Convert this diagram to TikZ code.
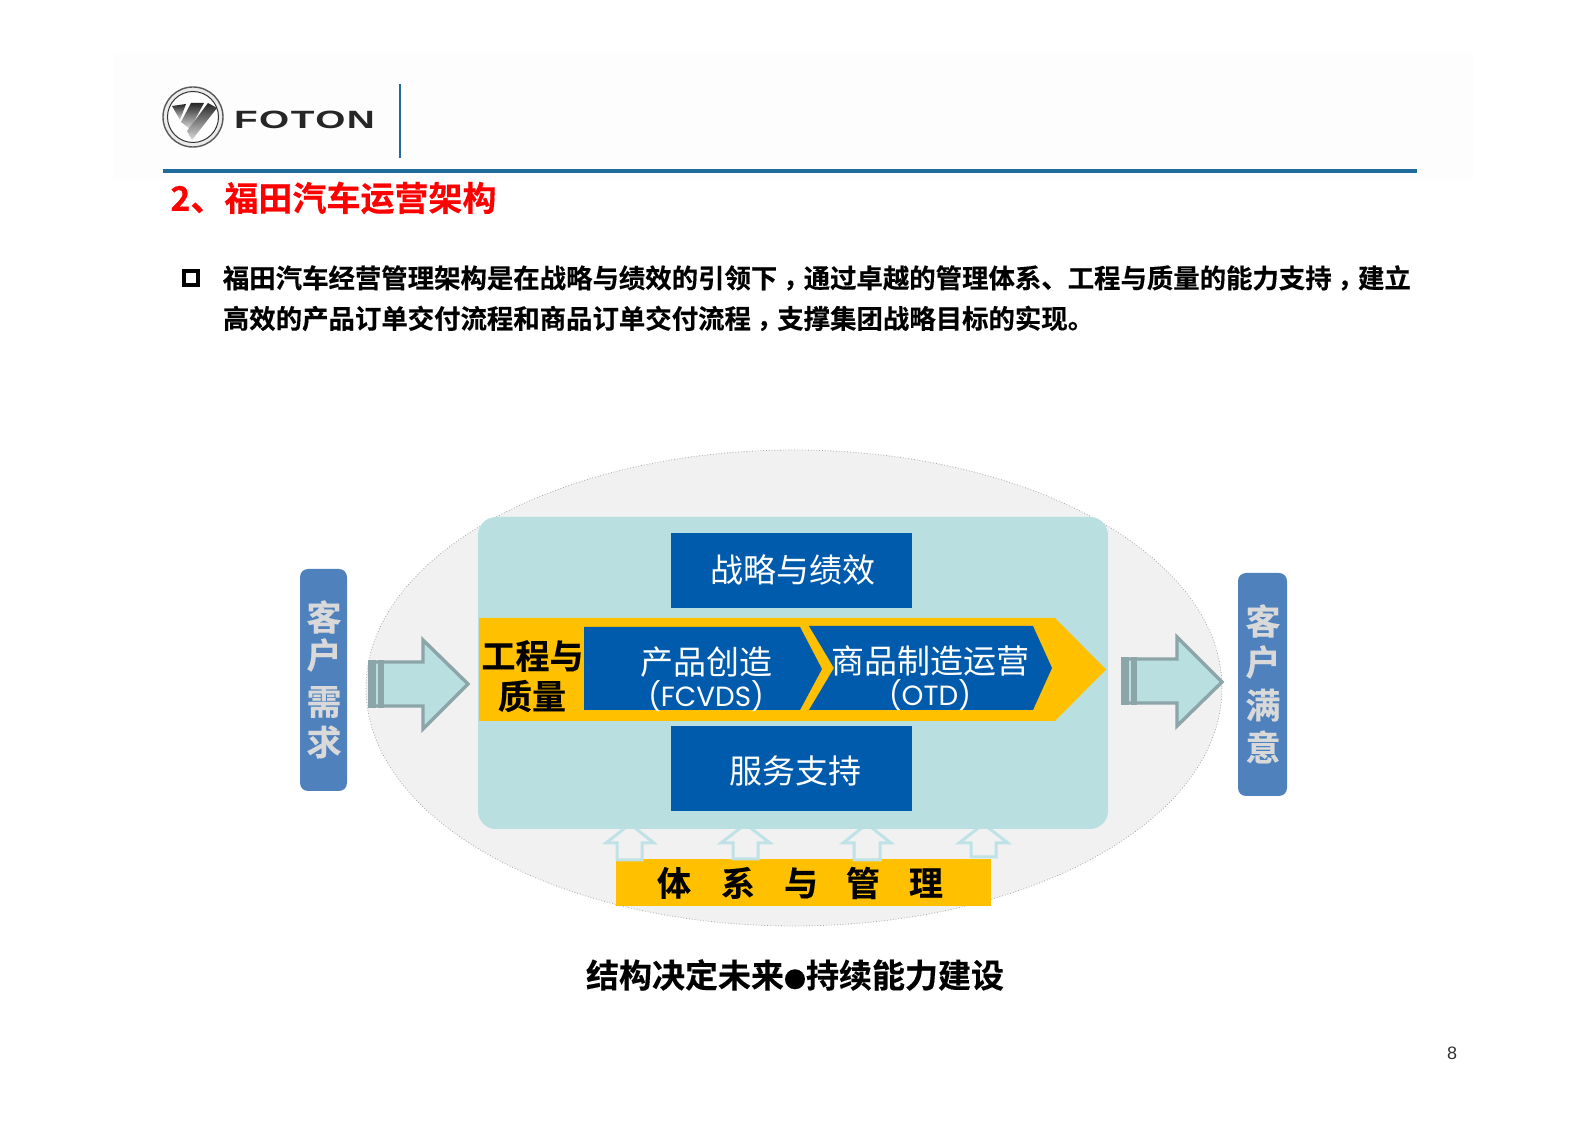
\documentclass[tikz,border=0pt]{standalone}
\usepackage{xcolor}
\usepackage{fontspec}
\usetikzlibrary{positioning}
\newfontfamily\cjkreg{Noto Sans CJK SC}
\newfontfamily\cjkbold{Noto Sans CJK SC Bold}
\newfontfamily\cjkheavy[FakeBold=0.35]{Noto Sans CJK SC Bold}
\newfontfamily\cjkcomma[FakeBold=0.35]{Noto Sans CJK TC Bold}
\newfontfamily\fotonfont[FakeStretch=1.55,LetterSpace=6]{Liberation Sans Bold}
\newfontfamily\abbrfont{Poppins}
\setsansfont{Liberation Sans}
\definecolor{fotonblue}{HTML}{005BAC}
\definecolor{barblue}{HTML}{4F81BD}
\definecolor{paleteal}{HTML}{B9DFE1}
\definecolor{arrowgrey}{HTML}{8CA5A8}
\definecolor{smallteal}{HTML}{BFE2E6}
\definecolor{amber}{HTML}{FFC000}
\definecolor{ruleblue}{HTML}{1F6C9C}
\definecolor{ovalgrey}{HTML}{F1F1F1}
\begin{document}
\begin{tikzpicture}[
    x=0.5pt, y=-0.5pt,
    txt/.style={inner sep=0pt, anchor=center},
    bodyline/.style={inner sep=0pt, anchor=west, font=\cjkheavy\fontsize{13.2}{16}\selectfont, text=black},
    bluebox/.style={rectangle, fill=fotonblue, minimum width=120.5pt, inner sep=0pt, text=white, font=\cjkreg\fontsize{16.5}{20}\selectfont},
    whitetxt/.style={txt, text=white, font=\cjkreg\fontsize{16.5}{20}\selectfont},
    whitesmall/.style={txt, text=white, font=\abbrfont\fontsize{13.9}{16}\selectfont},
    blacktxt/.style={txt, text=black, font=\cjkheavy\fontsize{17}{20}\selectfont},
    sidebar/.style={rectangle, rounded corners=4pt, fill=barblue, inner sep=0pt},
    sidetxt/.style={txt, text=black!15, font=\cjkheavy\fontsize{17.5}{20}\selectfont},
    bigarrow/.style={draw=arrowgrey, line width=1.7pt, fill=paleteal, line join=miter},
    smallarrow/.style={draw=smallteal, line width=1.5pt, fill=ovalgrey},
    blade/.style={top color=black!85, bottom color=black!15, draw=none},
]
    \useasboundingbox (0,0) rectangle (1587,1122);

    % Header
    \fill[black!0.8] (113,53) rectangle (1473,180);
    \draw[ruleblue, line width=0.9pt] (400,84) -- (400,158);
    \draw[ruleblue, line width=1.6pt] (163,171) -- (1417,171);

    % Logo
    \node[circle, draw=black!65, line width=0.7pt, fill=black!8, minimum size=30pt, inner sep=0pt] (logoring) at (193,117) {};
    \node[circle, draw=black!80, line width=0.5pt, fill=white, minimum size=25.5pt, inner sep=0pt] (logodisc) at (193,117) {};
    \shade[blade] (172,106) -- (186,104) -- (180,120) -- cycle;
    \shade[blade] (191,103) -- (204,103) -- (190,129) -- (181,122) -- cycle;
    \shade[blade] (208,103) -- (217,108) -- (192,140) -- (187,131) -- cycle;
    \node[txt, text=black!85, font=\fotonfont\fontsize{12.5}{14}\selectfont] (foton) at (304.5,120) {FOTON};

    % Title
    \node[txt, anchor=west, text=red, font=\cjkheavy\fontsize{17}{20}\selectfont] (title) at (170,198) {2、福田汽车运营架构};

    % Intro
    \node[rectangle, draw=black, line width=2pt, minimum size=7pt, inner sep=0pt] (bullet) at (191,278) {};
    \node[bodyline] (lineone) at (222.5,280) {福田汽车经营管理架构是在战略与绩效的引领下{\cjkcomma\raisebox{-3.4pt}{，}}通过卓越的管理体系、工程与质量的能力支持{\cjkcomma\raisebox{-3.4pt}{，}}建立};
    \node[bodyline] (linetwo) at (222.5,320.5) {高效的产品订单交付流程和商品订单交付流程{\cjkcomma\raisebox{-3.4pt}{，}}支撑集团战略目标的实现。};

    % Background oval
    \draw[black!35, fill=ovalgrey, densely dotted, line width=0.4pt] (794,688) ellipse [x radius=428, y radius=238];

    % Bottom bar and small arrows
    \node[rectangle, fill=amber, minimum width=187.5pt, minimum height=23.5pt, inner sep=0pt] (sysbar) at (803.5,882.5) {};
    \draw[smallarrow] (630,824) -- (654,843) -- (642,843) -- (642,860) -- (617,860) -- (617,843) -- (606,843) -- cycle;
    \draw[smallarrow] (745.5,824) -- (770,843) -- (758,843) -- (758,859) -- (733,859) -- (733,843) -- (721,843) -- cycle;
    \draw[smallarrow] (867,824) -- (891,843) -- (880,843) -- (880,860) -- (854,860) -- (854,843) -- (843,843) -- cycle;
    \draw[smallarrow] (983.5,824) -- (1008,843) -- (996,843) -- (996,857) -- (971,857) -- (971,843) -- (959,843) -- cycle;
    \node[blacktxt] (ti) at (674,883) {体};
    \node[blacktxt] (xi) at (738,883) {系};
    \node[blacktxt] (yu) at (801,883) {与};
    \node[blacktxt] (guan) at (863,883) {管};
    \node[blacktxt] (li) at (926,883) {理};

    % Centre panel
    \fill[paleteal, rounded corners=9pt] (478,517) rectangle (1108,829);
    \node[bluebox, minimum height=37.5pt] (strategy) at (791.5,570.5) {};
    \node[whitetxt] at (793,570) {战略与绩效};
    \node[bluebox, minimum height=42.5pt] (service) at (791.5,768.5) {};
    \node[whitetxt] at (795,771) {服务支持};

    % Amber arrow and chevrons
    \fill[amber] (479,618) -- (1055,618) -- (1106,669.5) -- (1055,721) -- (479,721) -- cycle;
    \fill[fotonblue] (584,627) -- (800,627) -- (822,669) -- (800,710) -- (584,710) -- cycle;
    \fill[fotonblue] (809,626) -- (1033,626) -- (1052,668) -- (1033,710) -- (809,710) -- (834,668) -- cycle;
    \node[blacktxt] (gong) at (532.5,656) {工程与};
    \node[blacktxt] (zhi) at (532,696) {质量};
    \node[whitetxt] (create) at (706,662) {产品创造};
    \node[whitesmall] (fcvds) at (706,696) {(FCVDS)};
    \node[whitetxt] (otd) at (930,661) {商品制造运营};
    \node[whitesmall] (otdabbr) at (930,695) {(OTD)};

    % Side bars
    \node[sidebar, minimum width=23.5pt, minimum height=111pt] (need) at (323.5,680) {};
    \node[sidetxt] at (324,617) {客};
    \node[sidetxt] at (324,655) {户};
    \node[sidetxt] at (324,702) {需};
    \node[sidetxt] at (324,742) {求};
    \node[sidebar, minimum width=24.5pt, minimum height=111.5pt] (satisfied) at (1262.5,684.5) {};
    \node[sidetxt] at (1263,621) {客};
    \node[sidetxt] at (1263,662) {户};
    \node[sidetxt] at (1263,705) {满};
    \node[sidetxt] at (1263,747) {意};

    % Big arrows
    \draw[bigarrow] (371,662) -- (423,662) -- (423,640) -- (468,684) -- (423,729) -- (423,706) -- (371,706) -- cycle;
    \fill[arrowgrey] (368,660) rectangle (376,708);
    \fill[arrowgrey] (378,660) rectangle (384,708);
    \draw[bigarrow] (1124,659) -- (1177,659) -- (1177,637) -- (1222,682) -- (1177,726) -- (1177,703) -- (1124,703) -- cycle;
    \fill[arrowgrey] (1121,657) rectangle (1129,705);
    \fill[arrowgrey] (1131,657) rectangle (1137,705);

    % Footer
    \node[txt, text=black, font=\cjkheavy\fontsize{16.5}{20}\selectfont] (slogan) at (795,975) {结构决定未来{\fontsize{11}{20}\selectfont ●}持续能力建设};
    \node[txt, text=black!80, font=\sffamily\fontsize{9}{11}\selectfont] (pagenum) at (1452,1053) {8};
\end{tikzpicture}
\end{document}
